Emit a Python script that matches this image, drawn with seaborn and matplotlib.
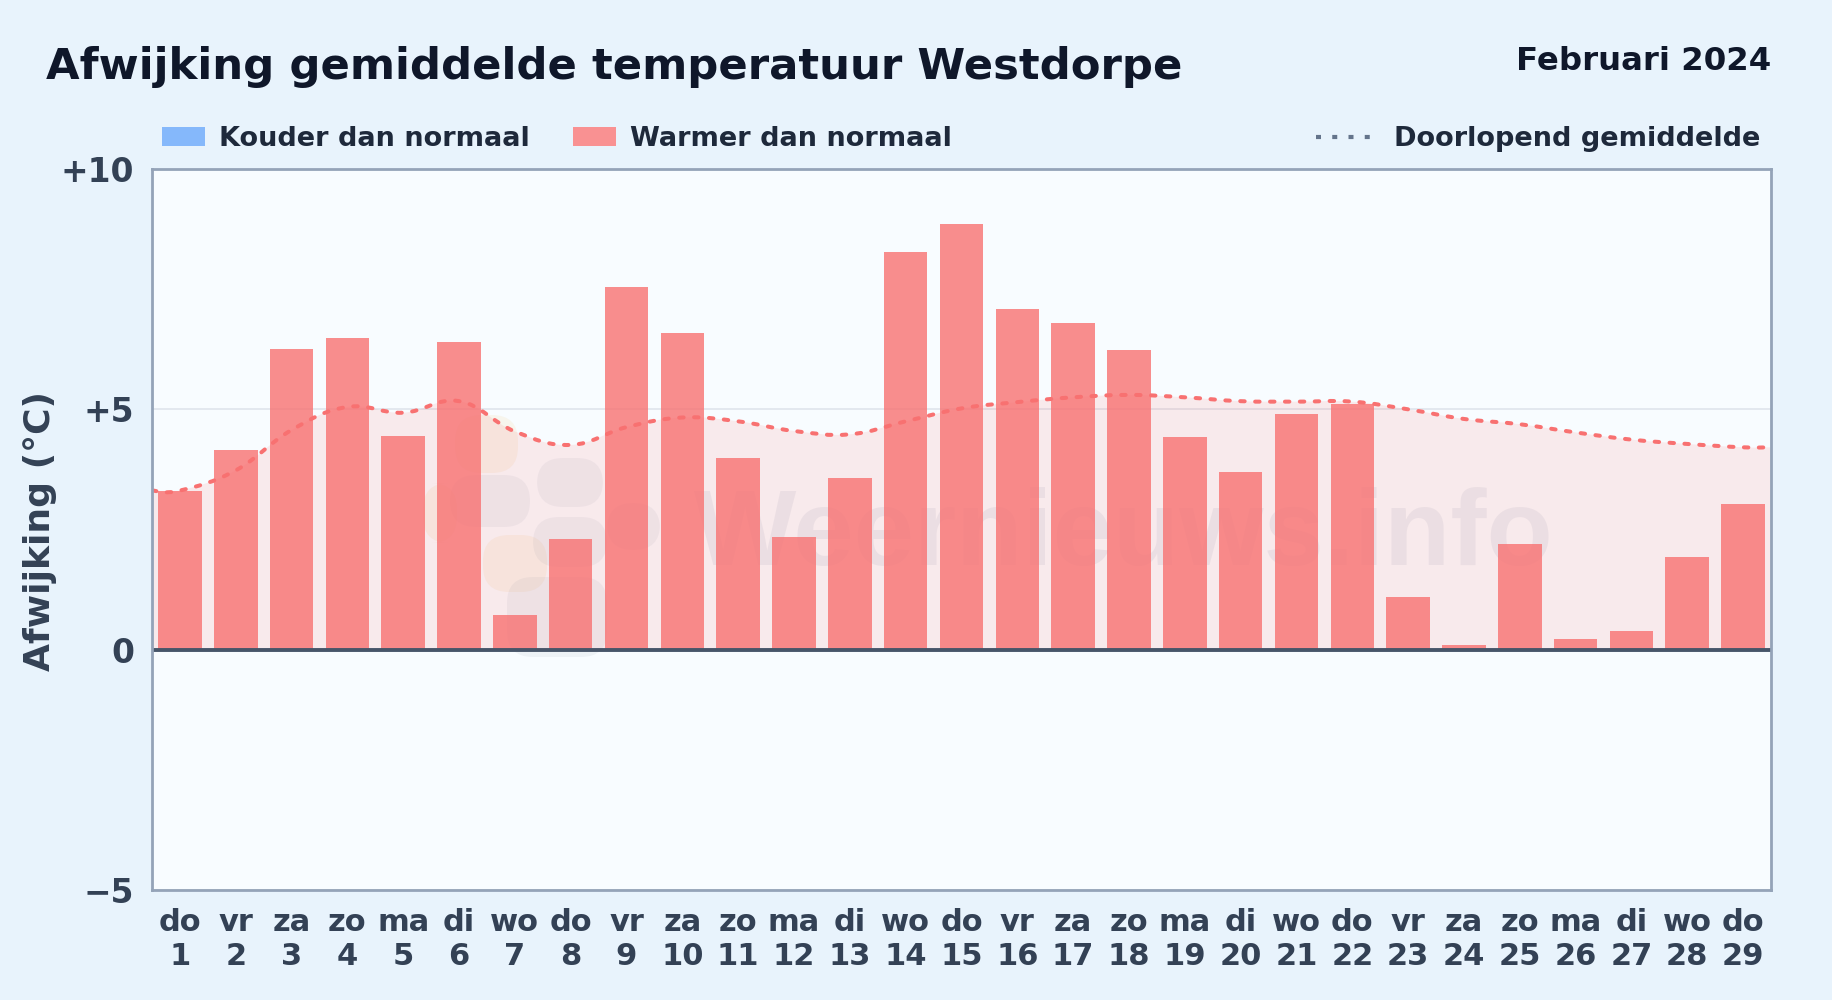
import seaborn as sns
import matplotlib.pyplot as plt
from matplotlib.lines import Line2D
from matplotlib.patches import Patch, PathPatch, FancyBboxPatch
from matplotlib.path import Path
from matplotlib.transforms import IdentityTransform

# Februari 2024, Westdorpe
dagen = ['do', 'vr', 'za', 'zo', 'ma', 'di', 'wo', 'do', 'vr', 'za', 'zo', 'ma', 'di', 'wo', 'do',
         'vr', 'za', 'zo', 'ma', 'di', 'wo', 'do', 'vr', 'za', 'zo', 'ma', 'di', 'wo', 'do']
datums = list(range(1, 30))
afwijking = [3.31, 4.16, 6.25, 6.48, 4.45, 6.40, 0.73, 2.31, 7.54, 6.59, 3.99, 2.34, 3.58, 8.27, 8.86,
             7.08, 6.79, 6.23, 4.43, 3.70, 4.91, 5.11, 1.09, 0.10, 2.19, 0.22, 0.39, 1.92, 3.04]
gemiddelde = [3.31, 3.73, 4.57, 5.05, 4.93, 5.17, 4.54, 4.26, 4.63, 4.83, 4.75, 4.55, 4.48, 4.75, 5.02,
              5.15, 5.25, 5.30, 5.25, 5.17, 5.16, 5.16, 5.00, 4.80, 4.69, 4.52, 4.37, 4.28, 4.21]
y_ticks = [-5, 0, 5, 10]
y_labels = ['\u22125', '0', '+5', '+10']

ROOD = '#f87171'
W, H = 1832, 1000


def smooth_path(xs, ys, tension=0.4):
    # bezier door de punten, zelfde idee als een chart.js lijn
    verts = [(xs[0], ys[0])]
    codes = [Path.MOVETO]
    n = len(xs)
    for i in range(n - 1):
        x0, y0 = xs[max(i - 1, 0)], ys[max(i - 1, 0)]
        x1, y1 = xs[i], ys[i]
        x2, y2 = xs[i + 1], ys[i + 1]
        x3, y3 = xs[min(i + 2, n - 1)], ys[min(i + 2, n - 1)]
        verts += [(x1 + (x2 - x0) * tension / 2, y1 + (y2 - y0) * tension / 2),
                  (x2 - (x3 - x1) * tension / 2, y2 - (y3 - y1) * tension / 2),
                  (x2, y2)]
        codes += [Path.CURVE4] * 3
    return verts, codes


sns.set_theme(style='white')
plt.rcParams['font.family'] = ['DejaVu Sans']
plt.rcParams['font.weight'] = 'bold'

fig = plt.figure(figsize=(W / 100, H / 100), dpi=100, facecolor='#e8f3fc')
ax = fig.add_axes([152 / W, 1 - 890 / H, (1771 - 152) / W, (890 - 169) / H], facecolor='#f8fcff')

# watermerk, logo als vlekken (pixels x0, x1, y0, y1)
blobs = [(455, 518, 415, 473, '#f59e0b'), (423, 457, 483, 543, '#f59e0b'), (483, 547, 535, 592, '#f59e0b'),
         (450, 530, 475, 527, '#64748b'), (537, 603, 458, 507, '#64748b'), (533, 607, 517, 567, '#64748b'),
         (507, 607, 577, 657, '#64748b'), (607, 660, 503, 550, '#64748b')]
for x0, x1, y0, y1, c in blobs:
    ax.add_patch(FancyBboxPatch((x0, H - y1), x1 - x0, y1 - y0, boxstyle='round,pad=0,rounding_size=26',
                                transform=IdentityTransform(), facecolor=c, alpha=0.07, lw=0, zorder=0.5))
ax.text((1124 - 152) / 1619, (890 - 565) / 721, 'Weernieuws.info', transform=ax.transAxes, ha='center',
        va='baseline', fontsize=78, color='#64748b', alpha=0.09, family='Liberation Sans', fontweight='bold',
        zorder=0.6)

labels = [f'{d}\n{n}' for d, n in zip(dagen, datums)]
sns.barplot(x=labels, y=afwijking, color=ROOD, saturation=1, width=0.78, alpha=0.8, zorder=3, linewidth=0,
            edgecolor='none', ax=ax)

xs = [-0.5] + list(range(len(gemiddelde))) + [len(gemiddelde) - 0.5]
ys = [gemiddelde[0]] + gemiddelde + [gemiddelde[-1]]
verts, codes = smooth_path(xs, ys)
vlak = Path(verts + [(xs[-1], 0), (xs[0], 0), (xs[0], 0)],
            codes + [Path.LINETO, Path.LINETO, Path.CLOSEPOLY])
ax.add_patch(PathPatch(vlak, facecolor=ROOD, alpha=0.13, lw=0, zorder=2))
ax.add_patch(PathPatch(Path(verts, codes), fill=False, edgecolor=ROOD, lw=2.9, zorder=4, capstyle='round',
                       linestyle=(0, (1.1, 2.6))))

ax.axhline(0, color='#475569', lw=2.8, zorder=5)
ax.set_xlim(-0.5, 28.5)
ax.set_ylim(-5, 10)
ax.set_yticks(y_ticks, y_labels)
ax.grid(axis='y', color='#dfe5ec', lw=1.2, zorder=0)
ax.set_axisbelow(True)
ax.tick_params(axis='y', labelsize=23.7, labelcolor='#334155', pad=13, length=0)
ax.tick_params(axis='x', labelsize=22, labelcolor='#334155', pad=13, length=0)
for lab in ax.get_xticklabels():
    lab.set_linespacing(1.2)
for s in ax.spines.values():
    s.set_color('#94a3b8')
    s.set_linewidth(2)
    s.set_zorder(6)
ax.set_ylabel('')
fig.text(40 / W, 1 - 531 / H, 'Afwijking (°C)', rotation=90, ha='center', va='center',
         fontsize=26, color='#334155')

fig.text(46 / W, 1 - 67 / H, 'Afwijking gemiddelde temperatuur Westdorpe', ha='left', va='center',
         fontsize=31.2, color='#0f172a')
fig.text(1771 / W, 1 - 62 / H, 'Februari 2024', ha='right', va='center', fontsize=23.3, color='#0f172a')

handles = [Patch(facecolor='#85b8fb', edgecolor='none', label='Kouder dan normaal'),
           Patch(facecolor='#f99192', edgecolor='none', label='Warmer dan normaal')]
fig.legend(handles=handles, loc='center left', bbox_to_anchor=(162 / W, 1 - 139 / H), ncol=2, frameon=False,
           fontsize=19.5, labelcolor='#1e293b', handlelength=1.6, handleheight=0.75, handletextpad=0.5,
           columnspacing=1.6, borderpad=0, borderaxespad=0)
lijn = [Line2D([], [], color='#64748b', lw=3, linestyle=(0, (1.2, 2.7)), label='Doorlopend gemiddelde')]
fig.legend(handles=lijn, loc='center right', bbox_to_anchor=(1760 / W, 1 - 139 / H), frameon=False,
           fontsize=19.5, labelcolor='#1e293b', handlelength=2.1, handletextpad=0.78, borderpad=0, borderaxespad=0)

fig.savefig('out.png', dpi=100, facecolor=fig.get_facecolor())
